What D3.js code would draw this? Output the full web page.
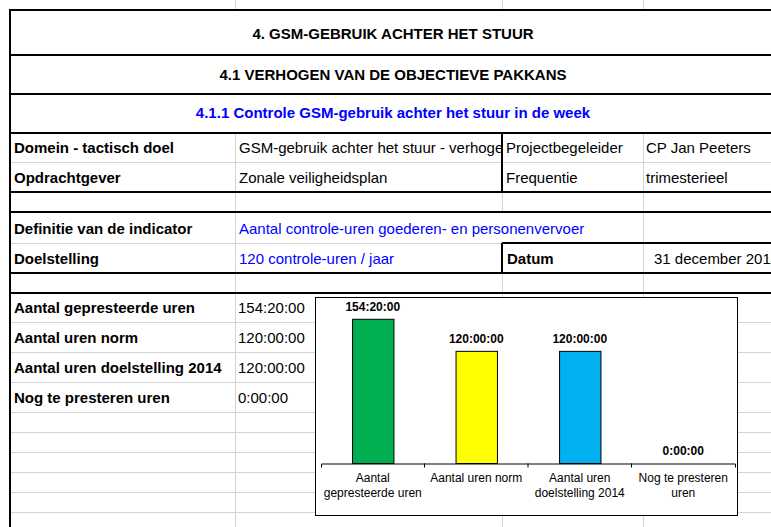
<!DOCTYPE html>
<html>
<head>
<meta charset="utf-8">
<title>GSM-gebruik achter het stuur</title>
<script src="https://cdn.jsdelivr.net/npm/d3@7"></script>
<style>
  body { margin: 0; background: #fff; overflow: hidden; }
  svg { display: block; font-family: "Liberation Sans", Arial, sans-serif; }
</style>
</head>
<body>
<svg id="sheet" width="771" height="527"></svg>
<script>
// chart data
var categories = ["Aantal gepresteerde uren", "Aantal uren norm", "Aantal uren doelstelling 2014", "Nog te presteren uren"];
var categoryLines = [["Aantal", "gepresteerde uren"], ["Aantal uren norm"], ["Aantal uren", "doelstelling 2014"], ["Nog te presteren", "uren"]];
var hourLabels = ["154:20:00", "120:00:00", "120:00:00", "0:00:00"];
var barColors = ["#00b050", "#ffff00", "#00b0f0", "#ffc000"];
var yMaxHours = 168;

// sheet texts
var titles = ["4. GSM-GEBRUIK ACHTER HET STUUR", "4.1 VERHOGEN VAN DE OBJECTIEVE PAKKANS", "4.1.1 Controle GSM-gebruik achter het stuur in de week"];
var domeinRow = ["Domein - tactisch doel", "GSM-gebruik achter het stuur - verhogen", "Projectbegeleider", "CP Jan Peeters"];
var opdrachtRow = ["Opdrachtgever", "Zonale veiligheidsplan", "Frequentie", "trimesterieel"];
var definitieRow = ["Definitie van de indicator", "Aantal controle-uren goederen- en personenvervoer"];
var doelRow = ["Doelstelling", "120 controle-uren / jaar", "Datum", "31 december 2014"];

// hh:mm:ss -> hours
function toHours(s) {
  var p = s.split(":").map(Number);
  return p[0] + p[1] / 60 + p[2] / 3600;
}
var hours = hourLabels.map(toHours);

var svg = d3.select("#sheet");
var W = 771;
var colX = [10, 235, 502, 643, W];
var grid = "#d4d4d4";

var gGrid = svg.append("g"), gThick = svg.append("g"), gText = svg.append("g");

function hline(y, x1, x2, thick) {
  (thick ? gThick : gGrid).append("line")
    .attr("x1", x1).attr("x2", x2)
    .attr("y1", thick ? y : y + 0.5).attr("y2", thick ? y : y + 0.5)
    .attr("stroke", thick ? "#000" : grid)
    .attr("stroke-width", thick ? 2 : 1);
}
function vline(x, y1, y2, thick) {
  (thick ? gThick : gGrid).append("line")
    .attr("x1", thick ? x : x + 0.5).attr("x2", thick ? x : x + 0.5)
    .attr("y1", y1).attr("y2", y2)
    .attr("stroke", thick ? "#000" : grid)
    .attr("stroke-width", thick ? 2 : 1);
}
// text sits 9px above the cell bottom
function cell(txt, x, bottom, opts) {
  opts = opts || {};
  var t = gText.append("text")
    .attr("x", x).attr("y", bottom - 9)
    .attr("font-size", opts.size || 15)
    .attr("font-weight", opts.bold ? "bold" : null)
    .attr("fill", opts.color || "#000")
    .attr("text-anchor", opts.anchor || "start")
    .text(txt);
  if (opts.clip) t.attr("clip-path", "url(#" + opts.clip + ")");
  return t;
}

// clip for overflowing text in column B
svg.append("defs").append("clipPath").attr("id", "clipB")
  .append("rect").attr("x", colX[1]).attr("y", 133).attr("width", colX[2] - colX[1] - 1).attr("height", 30);

// vertical stubs above the table
[colX[1], colX[2], colX[3]].forEach(function(x) { vline(x, 0, 10, false); });

// title rows
var titleBottoms = [47.5, 88.5, 126.5];
titles.forEach(function(t, i) {
  cell(t, 393, titleBottoms[i], { bold: true, anchor: "middle", color: i === 2 ? "#0000ff" : "#000" });
});
[10, 55, 94, 133].forEach(function(y) { hline(y, colX[0], W, true); });

// Domein / Opdrachtgever
hline(162, colX[0], W, false);
hline(192, colX[0], W, true);
vline(colX[1], 133, 192, false);
vline(colX[2], 133, 192, true);
vline(colX[3], 133, 192, false);
cell(domeinRow[0], 14, 162, { bold: true });
cell(domeinRow[1], colX[1] + 4, 162, { clip: "clipB" });
cell(domeinRow[2], colX[2] + 4, 162);
cell(domeinRow[3], colX[3] + 3, 162);
cell(opdrachtRow[0], 14, 192, { bold: true });
cell(opdrachtRow[1], colX[1] + 4, 192);
cell(opdrachtRow[2], colX[2] + 4, 192);
cell(opdrachtRow[3], colX[3] + 3, 192);

// empty row
vline(colX[1], 192, 212, false);
vline(colX[2], 192, 212, false);
vline(colX[3], 192, 212, false);
hline(212, colX[0], W, true);

// Definitie / Doelstelling
vline(colX[1], 212, 273, false);
vline(colX[3], 212, 273, false);
hline(243, colX[0], colX[2], false);
hline(243, colX[2], W, true);
vline(colX[2], 243, 273, true);
hline(273, colX[0], W, true);
cell(definitieRow[0], 14, 243, { bold: true });
cell(definitieRow[1], colX[1] + 4, 243, { color: "#0000ff" });
cell(doelRow[0], 14, 273, { bold: true });
cell(doelRow[1], colX[1] + 4, 273, { color: "#0000ff" });
cell(doelRow[2], colX[2] + 5, 273, { bold: true });
cell(doelRow[3], colX[3] + 11, 273);

// empty row
vline(colX[1], 273, 293, false);
vline(colX[2], 273, 293, false);
vline(colX[3], 273, 293, false);
hline(293, colX[0], W, true);

// result rows
var lowerLines = [322, 352, 382, 412, 432, 452, 472, 492, 512];
lowerLines.forEach(function(y) { hline(y, colX[0], W, false); });
[colX[1], colX[2], colX[3]].forEach(function(x) { vline(x, 293, 527, false); });
categories.forEach(function(c, i) {
  var b = [322, 352, 382, 412][i];
  cell(c, 14, b, { bold: true });
  cell(hourLabels[i], colX[1] + 3, b);
});

// left border
vline(colX[0], 9, 527, true);

// ---- embedded chart ----
var chart = svg.append("g");
chart.append("rect")
  .attr("x", 315.5).attr("y", 297.5).attr("width", 422).attr("height", 218)
  .attr("fill", "#fff").attr("stroke", "#000").attr("stroke-width", 1);

var x = d3.scaleBand().domain(categories).range([321, 735]).paddingInner(0.6).paddingOuter(0.3);
var y = d3.scaleLinear().domain([0, yMaxHours]).range([463, 306]);

chart.selectAll("rect.bar").data(categories).join("rect")
  .attr("class", "bar")
  .attr("x", function(d) { return x(d) + 0.5; })
  .attr("y", function(d, i) { return y(hours[i]) + 0.5; })
  .attr("width", x.bandwidth())
  .attr("height", function(d, i) { return Math.max(0, y(0) - y(hours[i])); })
  .attr("fill", function(d, i) { return barColors[i]; })
  .attr("stroke", "#000").attr("stroke-width", 1);

chart.selectAll("text.val").data(categories).join("text")
  .attr("class", "val")
  .attr("x", function(d) { return x(d) + x.bandwidth() / 2; })
  .attr("y", function(d, i) { return y(hours[i]) - 8; })
  .attr("text-anchor", "middle")
  .attr("font-size", 12).attr("font-weight", "bold")
  .text(function(d, i) { return hourLabels[i]; });

// category axis: line with ticks between categories
var axis = chart.append("g").attr("transform", "translate(0," + 463.5 + ")");
axis.call(d3.axisBottom(x).tickSize(0).tickSizeOuter(4).tickFormat(""));
axis.select(".domain").attr("stroke", "#000");
var bounds = categories.slice(1).map(function(c) { return x(c) - x.step() * x.paddingInner() / 2; });
axis.selectAll("line.sep").data(bounds).join("line")
  .attr("class", "sep")
  .attr("x1", function(d) { return d; }).attr("x2", function(d) { return d; })
  .attr("y1", 0).attr("y2", 4).attr("stroke", "#000");

var labels = chart.selectAll("text.cat").data(categories).join("text")
  .attr("class", "cat")
  .attr("text-anchor", "middle")
  .attr("font-size", 12)
  .attr("fill", "#000");
labels.each(function(d, i) {
  var t = d3.select(this);
  categoryLines[i].forEach(function(line, k) {
    t.append("tspan")
      .attr("x", x(d) + x.bandwidth() / 2)
      .attr("y", 482 + k * 15)
      .text(line);
  });
});
</script>
</body>
</html>
